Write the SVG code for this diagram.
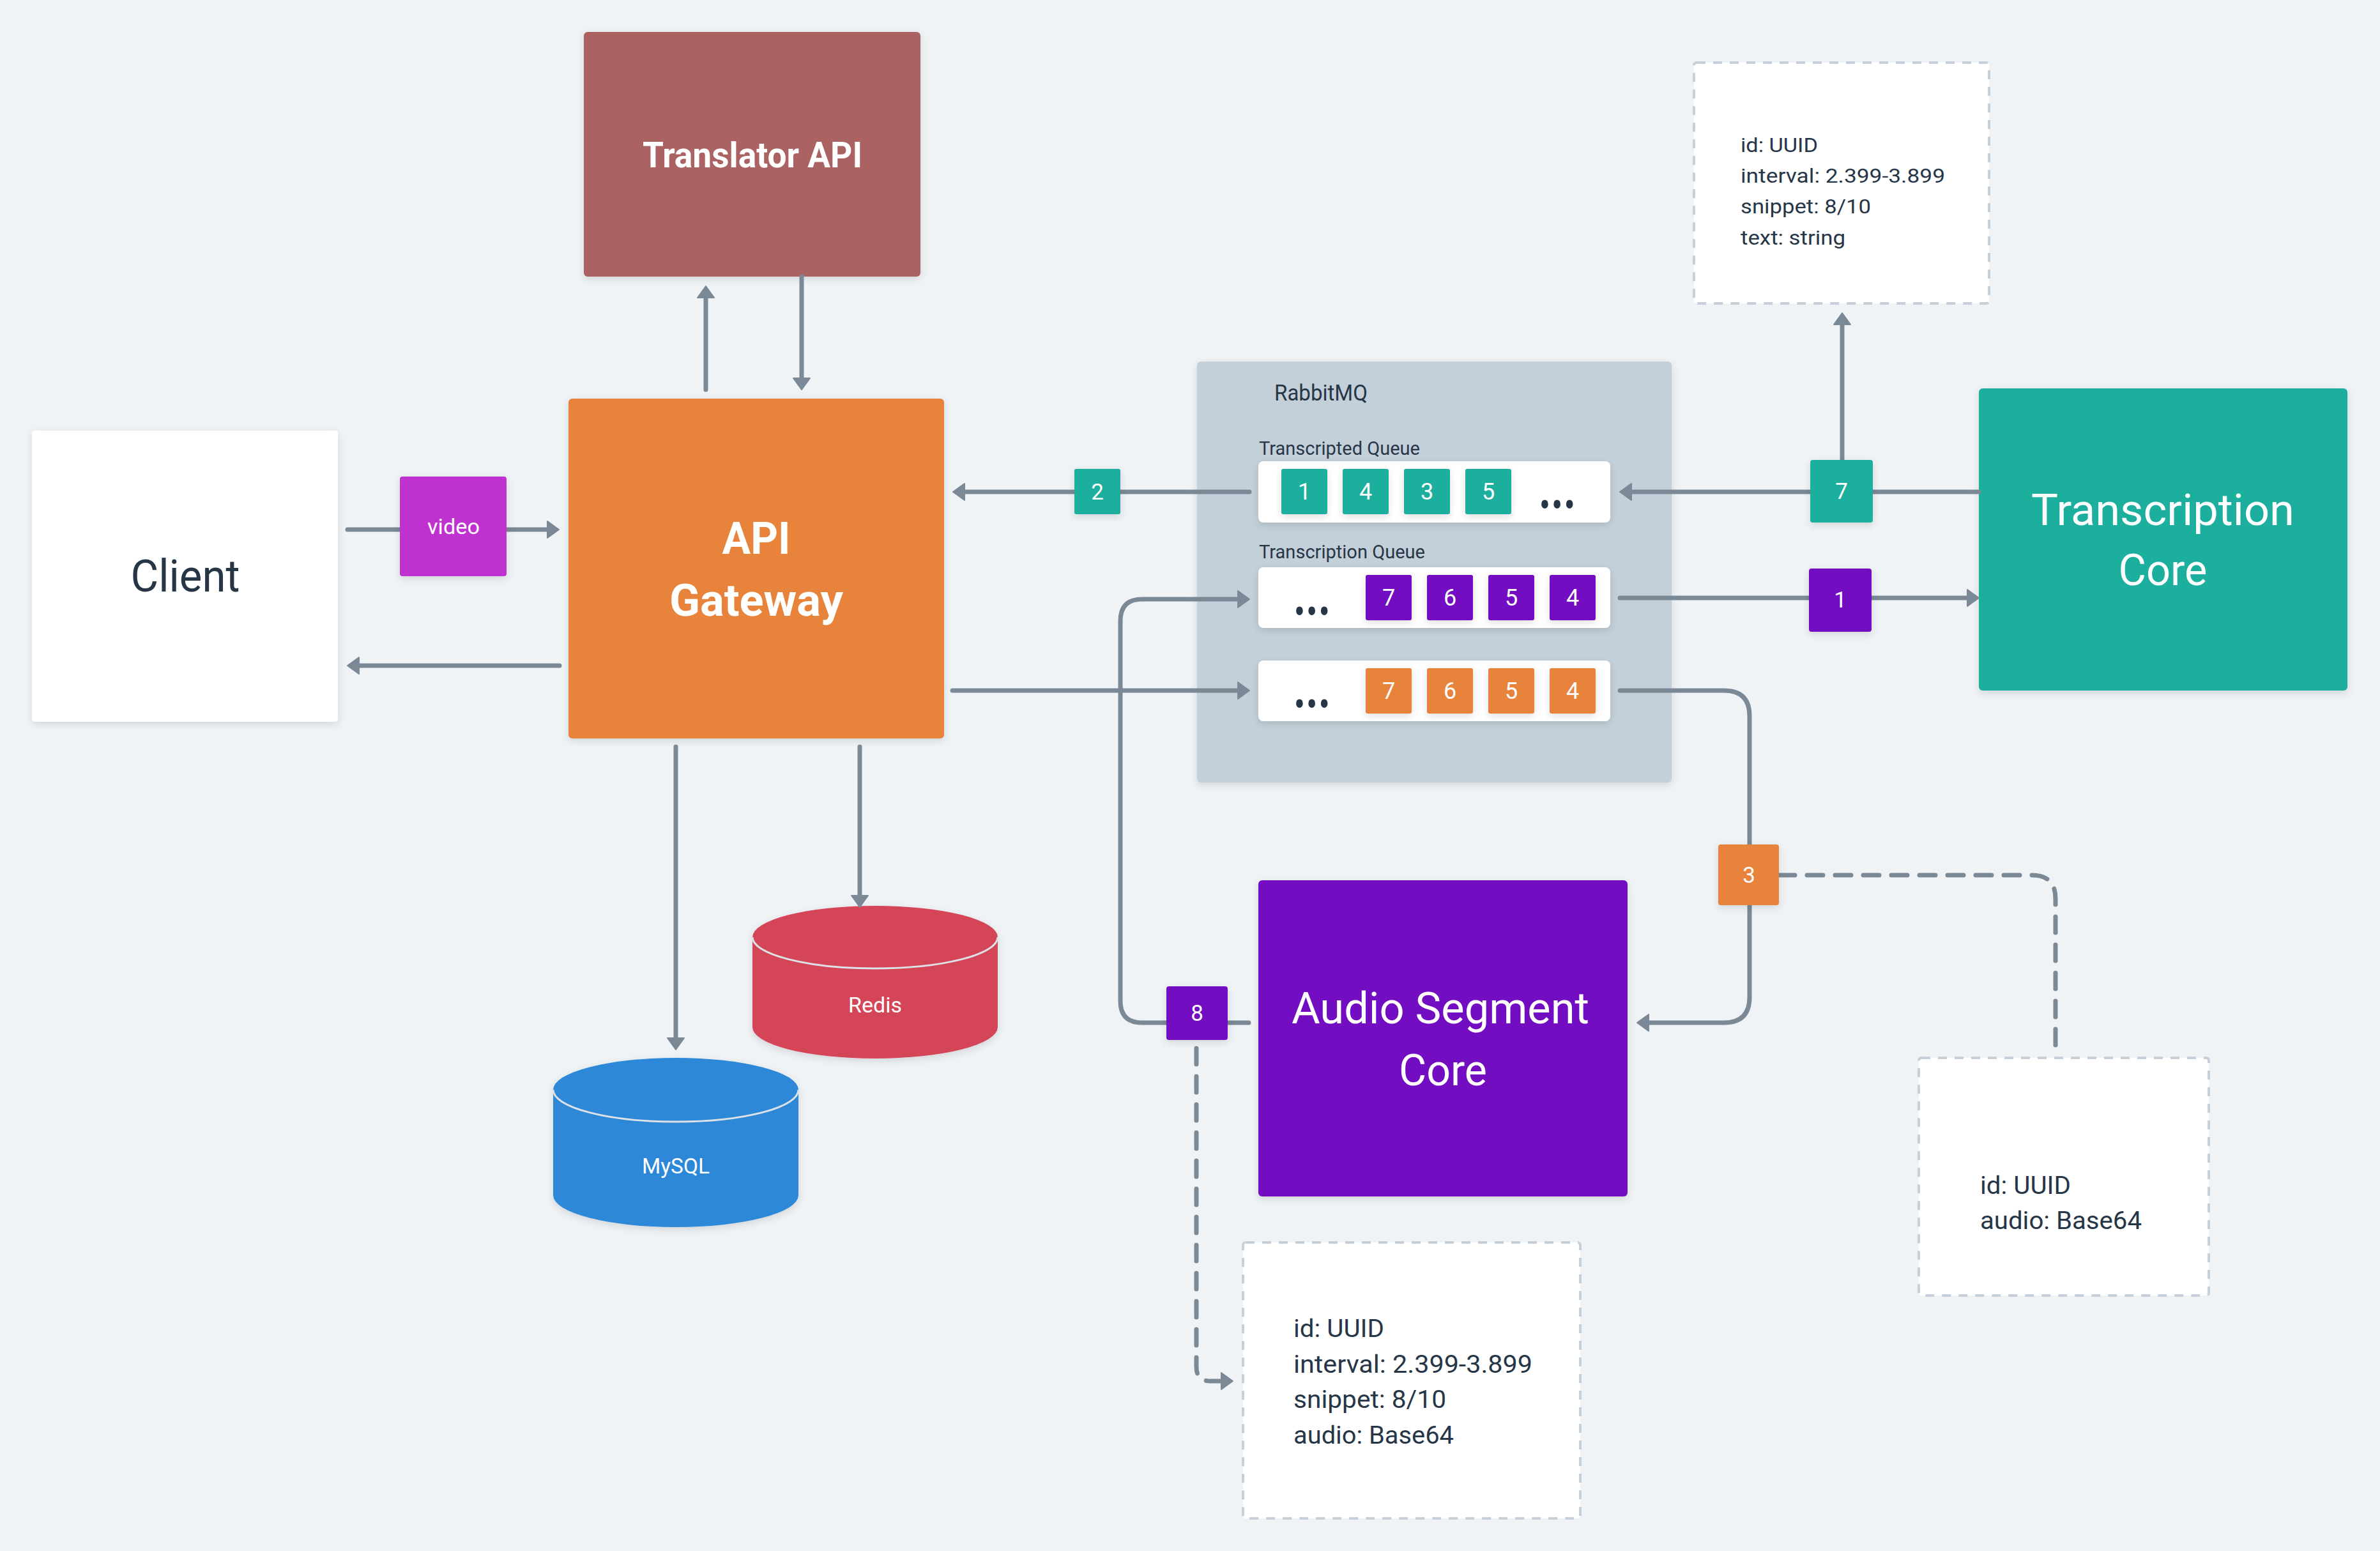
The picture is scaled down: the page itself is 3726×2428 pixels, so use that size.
<svg xmlns="http://www.w3.org/2000/svg" width="3726" height="2428" viewBox="0 0 3726 2428">
<defs>
<style>
.t{font-family:Roboto,"Liberation Sans",sans-serif;}
.dark{fill:#263646;}
.wh{fill:#ffffff;}
.b{font-weight:bold;}
.ln{fill:none;stroke:#7b8896;stroke-width:7;stroke-linecap:round;stroke-linejoin:round;}
.dash{stroke-dasharray:25 19;}
.note{fill:#ffffff;stroke:#c5d0da;stroke-width:4;stroke-dasharray:14 12;}
.rim{fill:none;stroke:#dde2e7;stroke-width:3;}
.teal{fill:#1aaf9e;}
.purp{fill:#7210c2;}
.orng{fill:#e8833a;}
.num{font-size:36px;text-anchor:middle;}
.dots{font-size:92px;font-weight:bold;}
</style>
<filter id="sh" x="-10%" y="-10%" width="120%" height="125%">
<feDropShadow dx="0" dy="4" stdDeviation="6" flood-color="#000" flood-opacity="0.12"/>
</filter>
<marker id="ah" markerUnits="userSpaceOnUse" markerWidth="30" markerHeight="32" refX="9" refY="14" orient="auto" viewBox="0 0 30 32">
<path d="M1,1 L19,14 L1,27 Z" fill="#7b8896" stroke="#7b8896" stroke-width="2" stroke-linejoin="round"/>
</marker>
</defs>
<rect x="0" y="0" width="3726" height="2428" fill="#eff3f6"/>

<g id="rabbitmq">
<rect x="1874" y="566" width="743" height="659" rx="6" fill="#c3d0d9" filter="url(#sh)"/>
<text class="t dark" x="1995" y="627" font-size="35" textLength="146" lengthAdjust="spacingAndGlyphs">RabbitMQ</text>
<text class="t dark" x="1971" y="712" font-size="29" textLength="252" lengthAdjust="spacingAndGlyphs">Transcripted Queue</text>
<text class="t dark" x="1971" y="874" font-size="29" textLength="260" lengthAdjust="spacingAndGlyphs">Transcription Queue</text>
</g>

<g id="transcripted-queue">
<rect x="1970" y="722" width="551" height="96" rx="8" fill="#ffffff" filter="url(#sh)"/>
<rect class="teal" x="2006" y="734" width="72" height="71" rx="3" filter="url(#sh)"/>
<rect class="teal" x="2102" y="734" width="72" height="71" rx="3" filter="url(#sh)"/>
<rect class="teal" x="2198" y="734" width="72" height="71" rx="3" filter="url(#sh)"/>
<rect class="teal" x="2294" y="734" width="72" height="71" rx="3" filter="url(#sh)"/>
<text class="t wh num" x="2042" y="782">1</text>
<text class="t wh num" x="2138" y="782">4</text>
<text class="t wh num" x="2234" y="782">3</text>
<text class="t wh num" x="2330" y="782">5</text>
<text class="t dark dots" x="2409" y="796" textLength="58" lengthAdjust="spacingAndGlyphs">...</text>
</g>

<g id="transcription-queue">
<rect x="1970" y="888" width="551" height="95" rx="8" fill="#ffffff" filter="url(#sh)"/>
<rect class="purp" x="2138" y="900" width="72" height="71" rx="3" filter="url(#sh)"/>
<rect class="purp" x="2234" y="900" width="72" height="71" rx="3" filter="url(#sh)"/>
<rect class="purp" x="2330" y="900" width="72" height="71" rx="3" filter="url(#sh)"/>
<rect class="purp" x="2426" y="900" width="72" height="71" rx="3" filter="url(#sh)"/>
<text class="t wh num" x="2174" y="948">7</text>
<text class="t wh num" x="2270" y="948">6</text>
<text class="t wh num" x="2366" y="948">5</text>
<text class="t wh num" x="2462" y="948">4</text>
<text class="t dark dots" x="2025" y="963" textLength="58" lengthAdjust="spacingAndGlyphs">...</text>
</g>

<g id="audio-queue">
<rect x="1970" y="1034" width="551" height="95" rx="8" fill="#ffffff" filter="url(#sh)"/>
<rect class="orng" x="2138" y="1046" width="72" height="71" rx="3" filter="url(#sh)"/>
<rect class="orng" x="2234" y="1046" width="72" height="71" rx="3" filter="url(#sh)"/>
<rect class="orng" x="2330" y="1046" width="72" height="71" rx="3" filter="url(#sh)"/>
<rect class="orng" x="2426" y="1046" width="72" height="71" rx="3" filter="url(#sh)"/>
<text class="t wh num" x="2174" y="1094">7</text>
<text class="t wh num" x="2270" y="1094">6</text>
<text class="t wh num" x="2366" y="1094">5</text>
<text class="t wh num" x="2462" y="1094">4</text>
<text class="t dark dots" x="2025" y="1108" textLength="58" lengthAdjust="spacingAndGlyphs">...</text>
</g>

<g id="translator-api">
<rect x="914" y="50" width="527" height="383" rx="6" fill="#ab6262" filter="url(#sh)"/>
<text class="t wh b" x="1178" y="262" font-size="56" text-anchor="middle" textLength="344" lengthAdjust="spacingAndGlyphs">Translator API</text>
</g>

<g id="api-gateway">
<rect x="890" y="624" width="588" height="532" rx="6" fill="#e8833a" filter="url(#sh)"/>
<text class="t wh b" x="1184" y="867" font-size="71" text-anchor="middle" textLength="107" lengthAdjust="spacingAndGlyphs">API</text>
<text class="t wh b" x="1184" y="964" font-size="71" text-anchor="middle" textLength="272" lengthAdjust="spacingAndGlyphs">Gateway</text>
</g>

<g id="client">
<rect x="50" y="674" width="479" height="456" rx="5" fill="#ffffff" filter="url(#sh)"/>
<text class="t dark" x="290" y="926" font-size="70" text-anchor="middle" textLength="171" lengthAdjust="spacingAndGlyphs">Client</text>
</g>

<g id="transcription-core">
<rect x="3098" y="608" width="577" height="473" rx="6" fill="#1aaf9e" filter="url(#sh)"/>
<text class="t wh" x="3386" y="822" font-size="68" text-anchor="middle" textLength="412" lengthAdjust="spacingAndGlyphs">Transcription</text>
<text class="t wh" x="3386" y="916" font-size="68" text-anchor="middle" textLength="139" lengthAdjust="spacingAndGlyphs">Core</text>
</g>

<g id="audio-segment-core">
<rect x="1970" y="1378" width="578" height="495" rx="6" fill="#7210c2" filter="url(#sh)"/>
<text class="t wh" x="2255" y="1602" font-size="68" text-anchor="middle" textLength="466" lengthAdjust="spacingAndGlyphs">Audio Segment</text>
<text class="t wh" x="2259" y="1699" font-size="68" text-anchor="middle" textLength="138" lengthAdjust="spacingAndGlyphs">Core</text>
</g>

<g id="redis">
<path d="M1178,1467 V1608 A192,49 0 0 0 1562,1608 V1467 A192,49 0 0 0 1178,1467 Z" fill="#d44459" filter="url(#sh)"/>
<path class="rim" d="M1178,1467 A192,49 0 0 0 1562,1467"/>
<text class="t wh" x="1370" y="1585" font-size="34" text-anchor="middle" textLength="84" lengthAdjust="spacingAndGlyphs">Redis</text>
</g>

<g id="mysql">
<path d="M866,1706 V1871 A192,50 0 0 0 1250,1871 V1706 A192,50 0 0 0 866,1706 Z" fill="#2d88d8" filter="url(#sh)"/>
<path class="rim" d="M866,1706 A192,50 0 0 0 1250,1706"/>
<text class="t wh" x="1058" y="1837" font-size="34" text-anchor="middle" textLength="106" lengthAdjust="spacingAndGlyphs">MySQL</text>
</g>

<g id="note-transcript">
<rect class="note" x="2652" y="98" width="462" height="377" rx="4"/>
<text class="t dark" x="2725" y="238" font-size="32" textLength="121" lengthAdjust="spacingAndGlyphs">id: UUID</text>
<text class="t dark" x="2725" y="286" font-size="32" textLength="320" lengthAdjust="spacingAndGlyphs">interval: 2.399-3.899</text>
<text class="t dark" x="2725" y="334" font-size="32" textLength="204" lengthAdjust="spacingAndGlyphs">snippet: 8/10</text>
<text class="t dark" x="2725" y="383" font-size="32" textLength="164" lengthAdjust="spacingAndGlyphs">text: string</text>
</g>

<g id="note-audio">
<rect class="note" x="3004" y="1656" width="454" height="372" rx="4"/>
<text class="t dark" x="3100" y="1869" font-size="38" textLength="142" lengthAdjust="spacingAndGlyphs">id: UUID</text>
<text class="t dark" x="3100" y="1924" font-size="38" textLength="253" lengthAdjust="spacingAndGlyphs">audio: Base64</text>
</g>

<g id="note-segment">
<rect class="note" x="1946" y="1945" width="528" height="432" rx="4"/>
<text class="t dark" x="2025" y="2093" font-size="38" textLength="142" lengthAdjust="spacingAndGlyphs">id: UUID</text>
<text class="t dark" x="2025" y="2149" font-size="38" textLength="374" lengthAdjust="spacingAndGlyphs">interval: 2.399-3.899</text>
<text class="t dark" x="2025" y="2204" font-size="38" textLength="239" lengthAdjust="spacingAndGlyphs">snippet: 8/10</text>
<text class="t dark" x="2025" y="2260" font-size="38" textLength="251" lengthAdjust="spacingAndGlyphs">audio: Base64</text>
</g>

<g id="connectors">
<path class="ln" d="M544,829 H865" marker-end="url(#ah)"/>
<path class="ln" d="M876,1042 H554" marker-end="url(#ah)"/>
<path class="ln" d="M1105,610 V458" marker-end="url(#ah)"/>
<path class="ln" d="M1255,433 V600" marker-end="url(#ah)"/>
<path class="ln" d="M1956,770 H1502" marker-end="url(#ah)"/>
<path class="ln" d="M3098,770 H2546" marker-end="url(#ah)"/>
<path class="ln" d="M2884,720 V500" marker-end="url(#ah)"/>
<path class="ln" d="M2536,936 H3088" marker-end="url(#ah)"/>
<path class="ln" d="M1491,1081 H1946" marker-end="url(#ah)"/>
<path class="ln" d="M2536,1081 H2699 Q2739,1081 2739,1121 V1561 Q2739,1601 2699,1601 H2573" marker-end="url(#ah)"/>
<path class="ln dash" d="M2785,1370 H3181 Q3218,1370 3218,1407 V1637"/>
<path class="ln" d="M1955,1601 H1788 Q1754,1601 1754,1567 V972 Q1754,938 1788,938 H1946" marker-end="url(#ah)"/>
<path class="ln dash" d="M1873,1641 V2140 Q1873,2162 1895,2162 H1920" marker-end="url(#ah)"/>
<path class="ln" d="M1058,1169 V1633" marker-end="url(#ah)"/>
<path class="ln" d="M1346,1169 V1410" marker-end="url(#ah)"/>
</g>

<g id="edge-labels">
<g id="label-video">
<rect x="626" y="746" width="167" height="156" rx="4" fill="#bf33cf" filter="url(#sh)"/>
<text class="t wh" x="710" y="836" font-size="33" text-anchor="middle" textLength="82" lengthAdjust="spacingAndGlyphs">video</text>
</g>
<g id="label-2">
<rect class="teal" x="1682" y="734" width="72" height="71" rx="3" filter="url(#sh)"/>
<text class="t wh" x="1718" y="782" font-size="35" text-anchor="middle">2</text>
</g>
<g id="label-7">
<rect class="teal" x="2834" y="720" width="98" height="98" rx="4" filter="url(#sh)"/>
<text class="t wh" x="2883" y="781" font-size="35" text-anchor="middle">7</text>
</g>
<g id="label-1">
<rect class="purp" x="2832" y="890" width="98" height="99" rx="4" filter="url(#sh)"/>
<text class="t wh" x="2881" y="951" font-size="35" text-anchor="middle">1</text>
</g>
<g id="label-3">
<rect class="orng" x="2690" y="1322" width="95" height="95" rx="4" filter="url(#sh)"/>
<text class="t wh" x="2738" y="1382" font-size="35" text-anchor="middle">3</text>
</g>
<g id="label-8">
<rect class="purp" x="1826" y="1544" width="96" height="84" rx="4" filter="url(#sh)"/>
<text class="t wh" x="1874" y="1598" font-size="35" text-anchor="middle">8</text>
</g>
</g>
</svg>
